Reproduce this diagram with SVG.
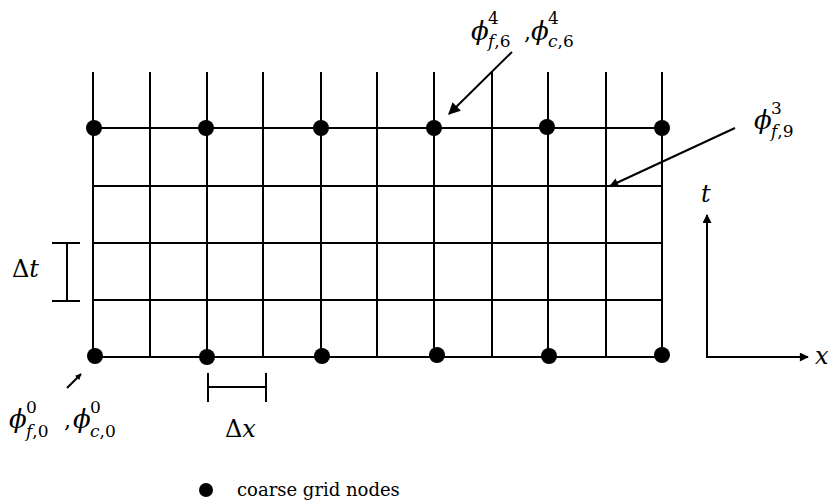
<svg xmlns="http://www.w3.org/2000/svg" width="830" height="503" viewBox="0 0 830 503">
<style>
.ln{stroke:#000;stroke-width:2;fill:none}
.dot{fill:#000}
.ph{font-size:26px;font-style:italic}
.sup{font-size:17px}
.sub{font-size:17px;font-style:italic}
.it{font-style:italic}
text{font-family:"DejaVu Serif","Liberation Serif",serif}
</style>
<defs>
<marker id="ah" viewBox="0 0 10 10" refX="9" refY="5" markerWidth="7" markerHeight="6" markerUnits="userSpaceOnUse" orient="auto"><path d="M0,0 L10,5 L0,10 Z" fill="#000"/></marker>
<marker id="ahL" viewBox="0 0 10 10" refX="9" refY="5" markerWidth="16" markerHeight="12" markerUnits="userSpaceOnUse" orient="auto"><path d="M0,0 L10,5 L0,10 Z" fill="#000"/></marker>
<marker id="ahM" viewBox="0 0 10 10" refX="9" refY="5" markerWidth="12" markerHeight="9" markerUnits="userSpaceOnUse" orient="auto"><path d="M0,0 L10,5 L0,10 Z" fill="#000"/></marker>
</defs>
<rect width="830" height="503" fill="#fff"/>
<g id="grid" class="ln">
<path d="M93,72V356M150,72V356M207,72V356M263,72V356M321,72V356M377,72V356M434,72V356M492,72V356M548,72V356M606,72V356M662,72V356"/>
<path d="M93,128H662M93,186H662M93,243H662M93,300H662M93,357H662"/>
</g>
<g id="coarse-nodes" class="dot">
<circle cx="94" cy="128" r="8"/><circle cx="206" cy="128" r="8"/><circle cx="321" cy="128" r="8"/><circle cx="434" cy="128" r="8"/><circle cx="547" cy="127" r="8"/><circle cx="662" cy="128" r="8"/>
<circle cx="95" cy="356" r="8"/><circle cx="207" cy="357" r="8"/><circle cx="322" cy="356" r="8"/><circle cx="437" cy="355" r="8"/><circle cx="549" cy="356" r="8"/><circle cx="662" cy="355" r="8"/>
</g>
<g id="connectors" class="ln">
<line x1="512" y1="52" x2="449" y2="114" marker-end="url(#ahL)"/>
<line x1="735" y1="128" x2="610" y2="186" marker-end="url(#ahM)"/>
<line x1="67" y1="388" x2="81" y2="374" marker-end="url(#ah)"/>
</g>
<g id="axes" class="ln">
<line x1="707" y1="357" x2="707" y2="215" marker-end="url(#ahM)"/>
<line x1="706" y1="357" x2="808" y2="357" marker-end="url(#ahM)"/>
</g>
<g id="dt-bracket" class="ln">
<path d="M52,243H80M52,301H80M67,243V301"/>
</g>
<g id="dx-bracket" class="ln">
<path d="M208,373V402M266,373V402M208,387H266"/>
</g>
<g fill="#000">
<g id="label-top">
<text x="471" y="40" class="ph">ϕ</text><text x="488" y="24" class="sup">4</text><text x="488" y="47" class="sub">f<tspan font-style="normal">,6</tspan></text>
<text x="524" y="40" font-size="22">,</text>
<text x="531" y="40" class="ph">ϕ</text><text x="548" y="24" class="sup">4</text><text x="548" y="47" class="sub">c<tspan font-style="normal">,6</tspan></text>
</g>
<g id="label-f9">
<text x="754" y="129" class="ph">ϕ</text><text x="771" y="114" class="sup">3</text><text x="771" y="137" class="sub">f<tspan font-style="normal">,9</tspan></text>
</g>
<g id="label-origin">
<text x="9" y="428" class="ph">ϕ</text><text x="26" y="413" class="sup">0</text><text x="26" y="437" class="sub">f<tspan font-style="normal">,0</tspan></text>
<text x="64" y="428" font-size="22">,</text>
<text x="73" y="428" class="ph">ϕ</text><text x="90" y="413" class="sup">0</text><text x="90" y="437" class="sub">c<tspan font-style="normal">,0</tspan></text>
</g>
<g id="label-dt"><text x="12" y="277" font-size="24">Δ<tspan class="it">t</tspan></text></g>
<g id="label-dx"><text x="225" y="437" font-size="24">Δ<tspan class="it">x</tspan></text></g>
<g id="label-t"><text x="701" y="202" font-size="24" class="it">t</text></g>
<g id="label-x"><text x="815" y="364" font-size="24" class="it">x</text></g>
<g id="legend">
<circle cx="206" cy="490" r="7" class="dot"/>
<text x="237" y="496" font-size="18">coarse grid nodes</text>
</g>
</g>
</svg>
